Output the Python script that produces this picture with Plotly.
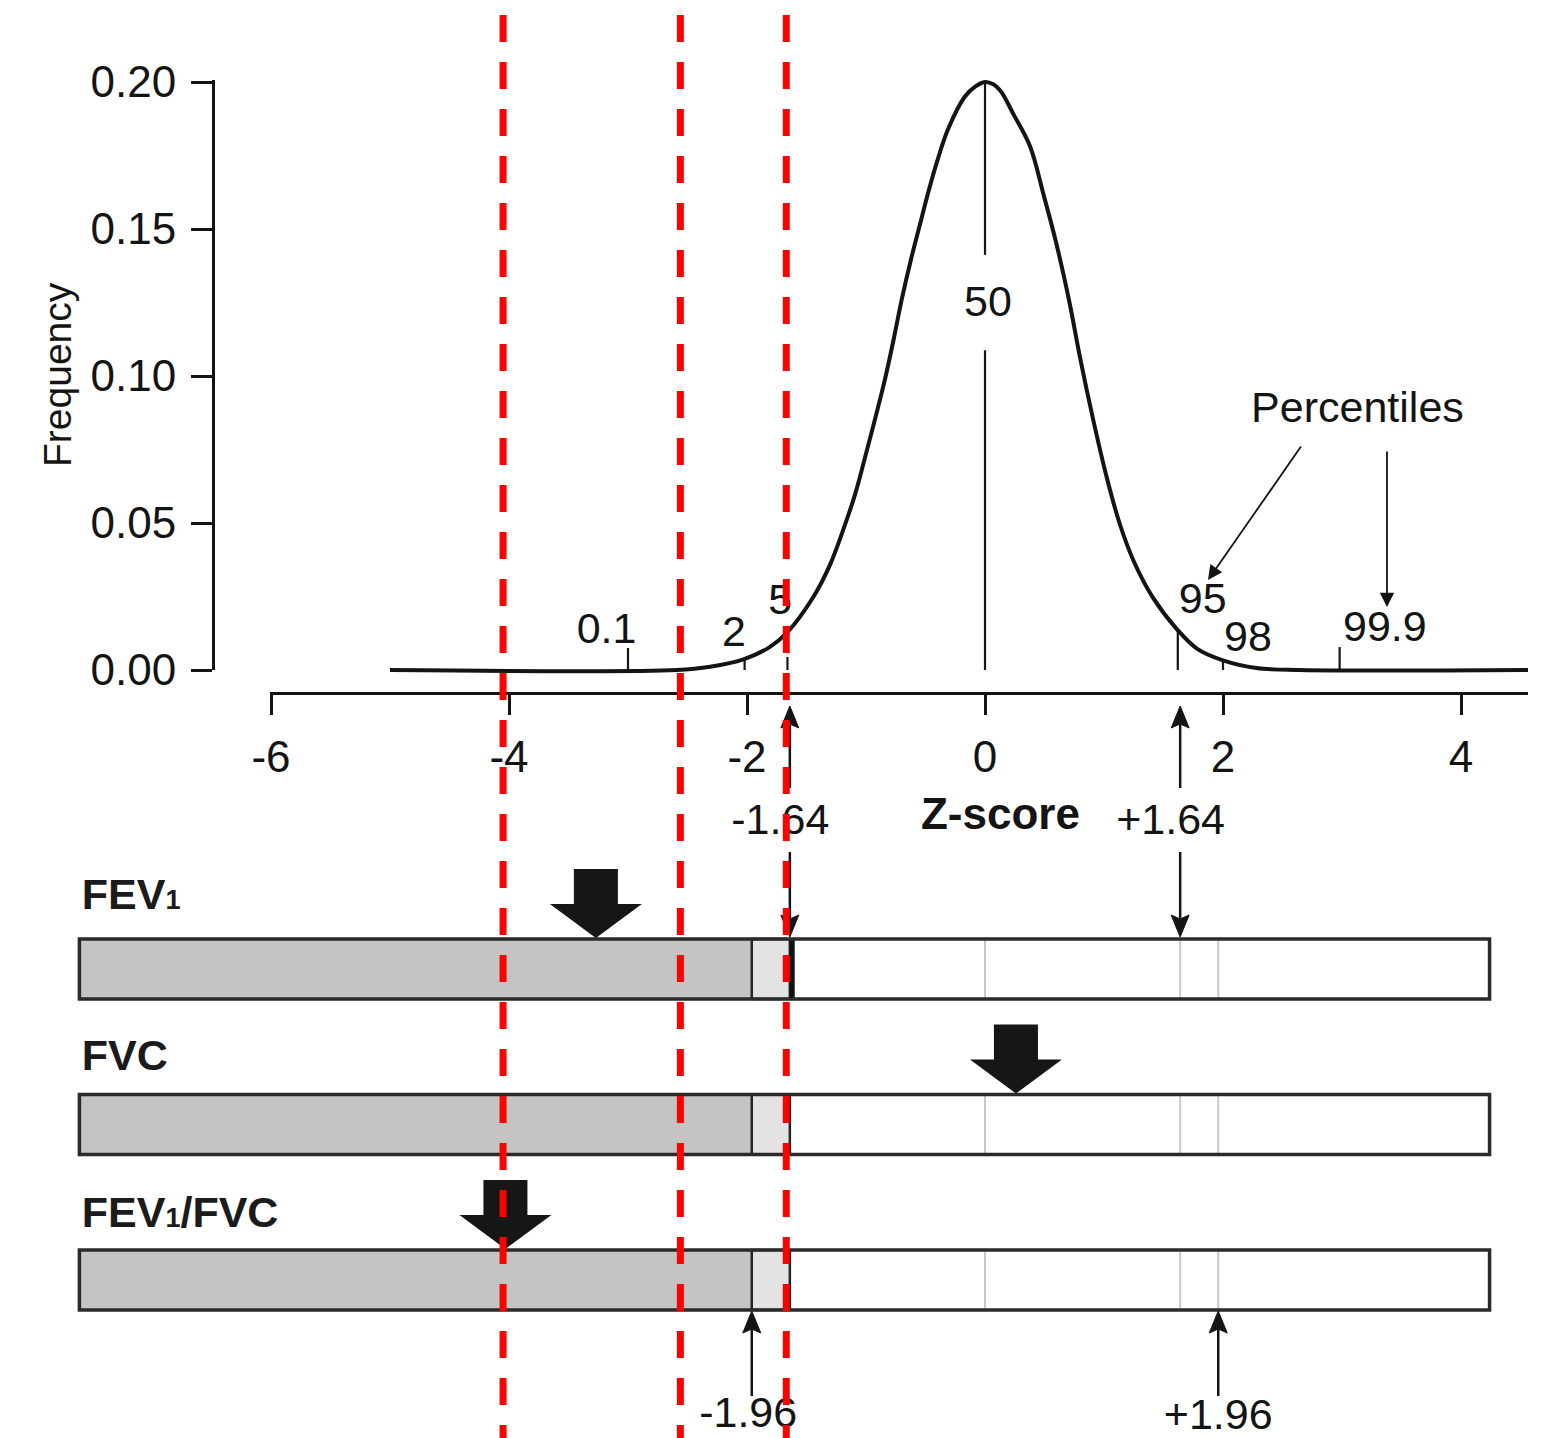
import plotly.graph_objects as go

# ---------------------------------------------------------------- data
# Frequency curve of the reference population, as (z-score, frequency) pairs
curve_z = [-5.0, -2.59, -2.31, -2.03, -1.81, -1.66, -1.44, -1.30, -1.18,
           -1.09, -1.01, -0.92, -0.84, -0.77, -0.70, -0.62, -0.55, -0.48,
           -0.41, -0.31, -0.17, -0.08, 0.0, 0.07, 0.13, 0.24, 0.38, 0.49, 0.60,
           0.71, 0.80, 0.91, 1.02, 1.13, 1.25, 1.41, 1.61, 1.78, 2.00, 2.28,
           2.65, 4.58]
curve_freq = [0.0, 0.0, 0.0011, 0.0036, 0.0078, 0.0129, 0.025, 0.036, 0.049,
              0.060, 0.072, 0.086, 0.099, 0.112, 0.126, 0.140, 0.151, 0.162,
              0.172, 0.184, 0.195, 0.1985, 0.200, 0.1992, 0.197, 0.189, 0.178, 0.162,
              0.145, 0.125, 0.106, 0.085, 0.066, 0.050, 0.037, 0.0247, 0.014, 0.0073,
              0.0033, 0.0007, 0.0, 0.0]

# Percentile markers along the curve
percentile_names = ["0.1", "2", "5", "50", "95", "98", "99.9"]
percentile_z = [-3.0, -2.02, -1.66, 0.0, 1.62, 2.0, 2.98]

# Axis ticks
z_ticks = [-6, -4, -2, 0, 2, 4]
z_tick_text = ["-6", "-4", "-2", "0", "2", "4"]
freq_ticks = [0.0, 0.05, 0.10, 0.15, 0.20]
freq_tick_text = ["0.00", "0.05", "0.10", "0.15", "0.20"]

# Limits of normal
lln_164, uln_164 = -1.64, 1.64
lln_196, uln_196 = -1.96, 1.96

# Patient results on the z-score scale
SUB1 = "<span style='font-size:27px'>1</span>"
measure_names = [f"FEV{SUB1}", "FVC", f"FEV{SUB1}/FVC"]
measure_z = [-3.27, 0.26, -4.03]

# Cut-off lines across the whole figure
cutoff_z = [-4.05, -2.56, -1.67]

# Extent of the z-score bars
bar_lo, bar_hi = -7.61, 4.24

# ---------------------------------------------------------------- layout
W, H = 1549, 1438
Z0_PX, PX_PER_Z = 985.0, 119.0      # z = 0 position and pixels per z unit
F0_PX, PX_PER_F = 670.0, 2940.0     # frequency = 0 position and pixels per unit
FONT = "Liberation Sans, Arial, Helvetica, sans-serif"
INK = "#141414"
TXT = 43


def z_at(px):
    return (px - Z0_PX) / PX_PER_Z


row_y = [969.0, 1124.5, 1280.0]     # bar centres (page pixels)
name_y = [898.0, 1059.0, 1216.0]    # measure-name rows (page pixels)
BAR_HALF = 30.0

fig = go.Figure()

# normal curve on the frequency scale
fig.add_trace(go.Scatter(
    x=curve_z, y=curve_freq, mode="lines", xaxis="x", yaxis="y3",
    line=dict(color=INK, width=4, shape="spline", smoothing=1.0),
    hoverinfo="skip"))

shapes = []
annotations = []

# percentile ticks rising from the baseline
tick_top = [0.0075, 0.0034, 0.0044, 0.200, 0.0136, 0.0030, 0.0078]
for z, top in zip(percentile_z, tick_top):
    if top > 0.15:
        segs = [(0.0, 0.1088), (0.1412, top)]
    else:
        segs = [(0.0, top)]
    for a, b in segs:
        shapes.append(dict(type="line", xref="x", yref="y3", x0=z, x1=z, y0=a, y1=b,
                           line=dict(color=INK, width=2.2), layer="above"))

# percentile labels (drawn on the visible frequency axis)
label_dz = [-0.18, -0.09, -0.06, 0.025, 0.21, 0.21, 0.38]
label_f = [0.0129, 0.0119, 0.0228, 0.1241, 0.0231, 0.0102, 0.0136]
fig.add_trace(go.Scatter(
    x=[z + d for z, d in zip(percentile_z, label_dz)] + [3.13],
    y=label_f + [0.0881],
    text=percentile_names + ["Percentiles"],
    mode="text", xaxis="x", yaxis="y", cliponaxis=False,
    textfont=dict(family=FONT, size=TXT, color=INK), hoverinfo="skip"))

# arrows from the "Percentiles" caption
for tail, tip in [((2.664, 0.0765), (1.874, 0.0306)), ((3.378, 0.0748), (3.378, 0.0214))]:
    annotations.append(dict(
        x=tip[0], y=tip[1], xref="x", yref="y3",
        ax=tail[0], ay=tail[1], axref="x", ayref="y3",
        text="", showarrow=True, arrowhead=2, arrowsize=1.6, arrowwidth=1.8,
        arrowcolor=INK, standoff=0))

# bars: abnormal, borderline and normal zones
for i, yc in enumerate(row_y):
    y0, y1 = yc - BAR_HALF, yc + BAR_HALF
    shapes.append(dict(type="rect", xref="x2", yref="y2", x0=bar_lo, x1=lln_196, y0=y0, y1=y1,
                       fillcolor="#c4c4c4", line=dict(width=0), layer="below"))
    shapes.append(dict(type="rect", xref="x2", yref="y2", x0=lln_196, x1=lln_164, y0=y0, y1=y1,
                       fillcolor="#e3e3e3", line=dict(color="#262626", width=2.5), layer="below"))
    for z in (0.0, uln_164, uln_196):
        shapes.append(dict(type="line", xref="x2", yref="y2", x0=z, x1=z, y0=y0, y1=y1,
                           line=dict(color="#c9c9c9", width=2), layer="below"))
    if i == 0:
        shapes.append(dict(type="line", xref="x2", yref="y2", x0=lln_164 + 0.02, x1=lln_164 + 0.02,
                           y0=y0, y1=y1, line=dict(color="#111111", width=5), layer="below"))
    shapes.append(dict(type="rect", xref="x2", yref="y2", x0=bar_lo, x1=bar_hi, y0=y0, y1=y1,
                       fillcolor="rgba(0,0,0,0)", line=dict(color="#2a2a2a", width=3.5),
                       layer="below"))

# block arrows marking each measured z-score
SHAFT_HALF = 22 / PX_PER_Z
HEAD_HALF = 46 / PX_PER_Z
for yc, z in zip(row_y, measure_z):
    top_edge = yc - BAR_HALF
    y_top, y_head, y_tip = top_edge - 70, top_edge - 35, top_edge - 1
    xs = [z - SHAFT_HALF, z + SHAFT_HALF, z + SHAFT_HALF, z + HEAD_HALF, z,
          z - HEAD_HALF, z - SHAFT_HALF, z - SHAFT_HALF]
    ys = [y_top, y_top, y_head, y_head, y_tip, y_head, y_head, y_top]
    fig.add_trace(go.Scatter(x=xs, y=ys, mode="lines", fill="toself", fillcolor="#161616",
                             line=dict(width=0, color="#161616"), xaxis="x2", yaxis="y2",
                             hoverinfo="skip"))

# measure names
fig.add_trace(go.Scatter(
    x=[bar_lo + 0.02] * 3, y=name_y,
    text=[f"<b>{m}</b>" for m in measure_names], mode="text", textposition="middle right",
    xaxis="x2", yaxis="y2", textfont=dict(family=FONT, size=TXT, color="#1b1b1b"),
    hoverinfo="skip"))

# thin arrows at the limits of normal


def vertical_arrow(z, y_tail, y_tip, width=2.5, head_len=22, head_half=9):
    d = 1 if y_tip > y_tail else -1
    base = y_tip - d * head_len
    notch = base + d * 4
    hw = head_half / PX_PER_Z
    shapes.append(dict(type="line", xref="x2", yref="y2", x0=z, x1=z, y0=y_tail, y1=notch,
                       line=dict(color=INK, width=width), layer="above"))
    shapes.append(dict(type="path", xref="x2", yref="y2",
                       path=f"M{z - hw},{base} L{z},{notch} L{z + hw},{base} L{z},{y_tip} Z",
                       fillcolor=INK, line=dict(color=INK, width=1), layer="above"))


for z in (lln_164, uln_164):
    vertical_arrow(z, 788, 706)
    vertical_arrow(z, 852, 937)
for z in (lln_196, uln_196):
    vertical_arrow(z, 1396, 1311)

# limit labels and axis title
fig.add_trace(go.Scatter(
    x=[lln_164 - 0.08, uln_164 - 0.08, lln_196 - 0.03, uln_196],
    y=[823, 823, 1416, 1418],
    text=["-1.64", "+1.64", "-1.96", "+1.96"], mode="text",
    xaxis="x2", yaxis="y2", textfont=dict(family=FONT, size=TXT, color=INK),
    hoverinfo="skip"))
fig.add_trace(go.Scatter(
    x=[0.13], y=[818], text=["<b>Z-score</b>"], mode="text",
    xaxis="x2", yaxis="y2", textfont=dict(family=FONT, size=44, color=INK),
    hoverinfo="skip"))

annotations.append(dict(
    x=z_at(57), y=375, xref="x2", yref="y2", text="Frequency", showarrow=False,
    textangle=-90, font=dict(family=FONT, size=39, color=INK)))

# red dashed cut-off lines over everything
for z in cutoff_z:
    shapes.append(dict(type="line", xref="x2", yref="y2", x0=z, x1=z, y0=15, y1=H,
                       line=dict(color="#ff0000", width=7, dash="27px,20px"), layer="above"))

axis_common = dict(showgrid=False, zeroline=False, showline=True, linecolor=INK,
                   linewidth=3, ticks="outside", tickcolor=INK, tickwidth=3,
                   automargin=False, tickfont=dict(family=FONT, size=44, color=INK))
hidden = dict(visible=False, automargin=False, showgrid=False, zeroline=False)

fig.update_layout(
    template="none",
    width=W, height=H, margin=dict(l=0, r=0, t=0, b=0, pad=0), autosize=False,
    paper_bgcolor="white", plot_bgcolor="rgba(0,0,0,0)", showlegend=False,
    xaxis=dict(domain=[270 / W, 1528 / W], range=[z_at(270), z_at(1528)],
               anchor="free", position=1 - 693 / H, tickvals=z_ticks, ticktext=z_tick_text,
               ticklen=20, ticklabelstandoff=4, **axis_common),
    yaxis=dict(domain=[1 - 670 / H, 1 - 80 / H], range=[0, (670 - 80) / PX_PER_F],
               anchor="free", position=213 / W, tickvals=freq_ticks,
               ticktext=freq_tick_text, ticklen=21, ticklabelstandoff=6, **axis_common),
    yaxis3=dict(domain=[0, 1], range=[(F0_PX - H) / PX_PER_F, F0_PX / PX_PER_F],
                anchor="x", **hidden),
    xaxis2=dict(domain=[0, 1], range=[z_at(0), z_at(W)], anchor="y2", **hidden),
    yaxis2=dict(domain=[0, 1], range=[H, 0], anchor="x2", **hidden),
    shapes=shapes, annotations=annotations,
)

fig.write_html("out.html")
